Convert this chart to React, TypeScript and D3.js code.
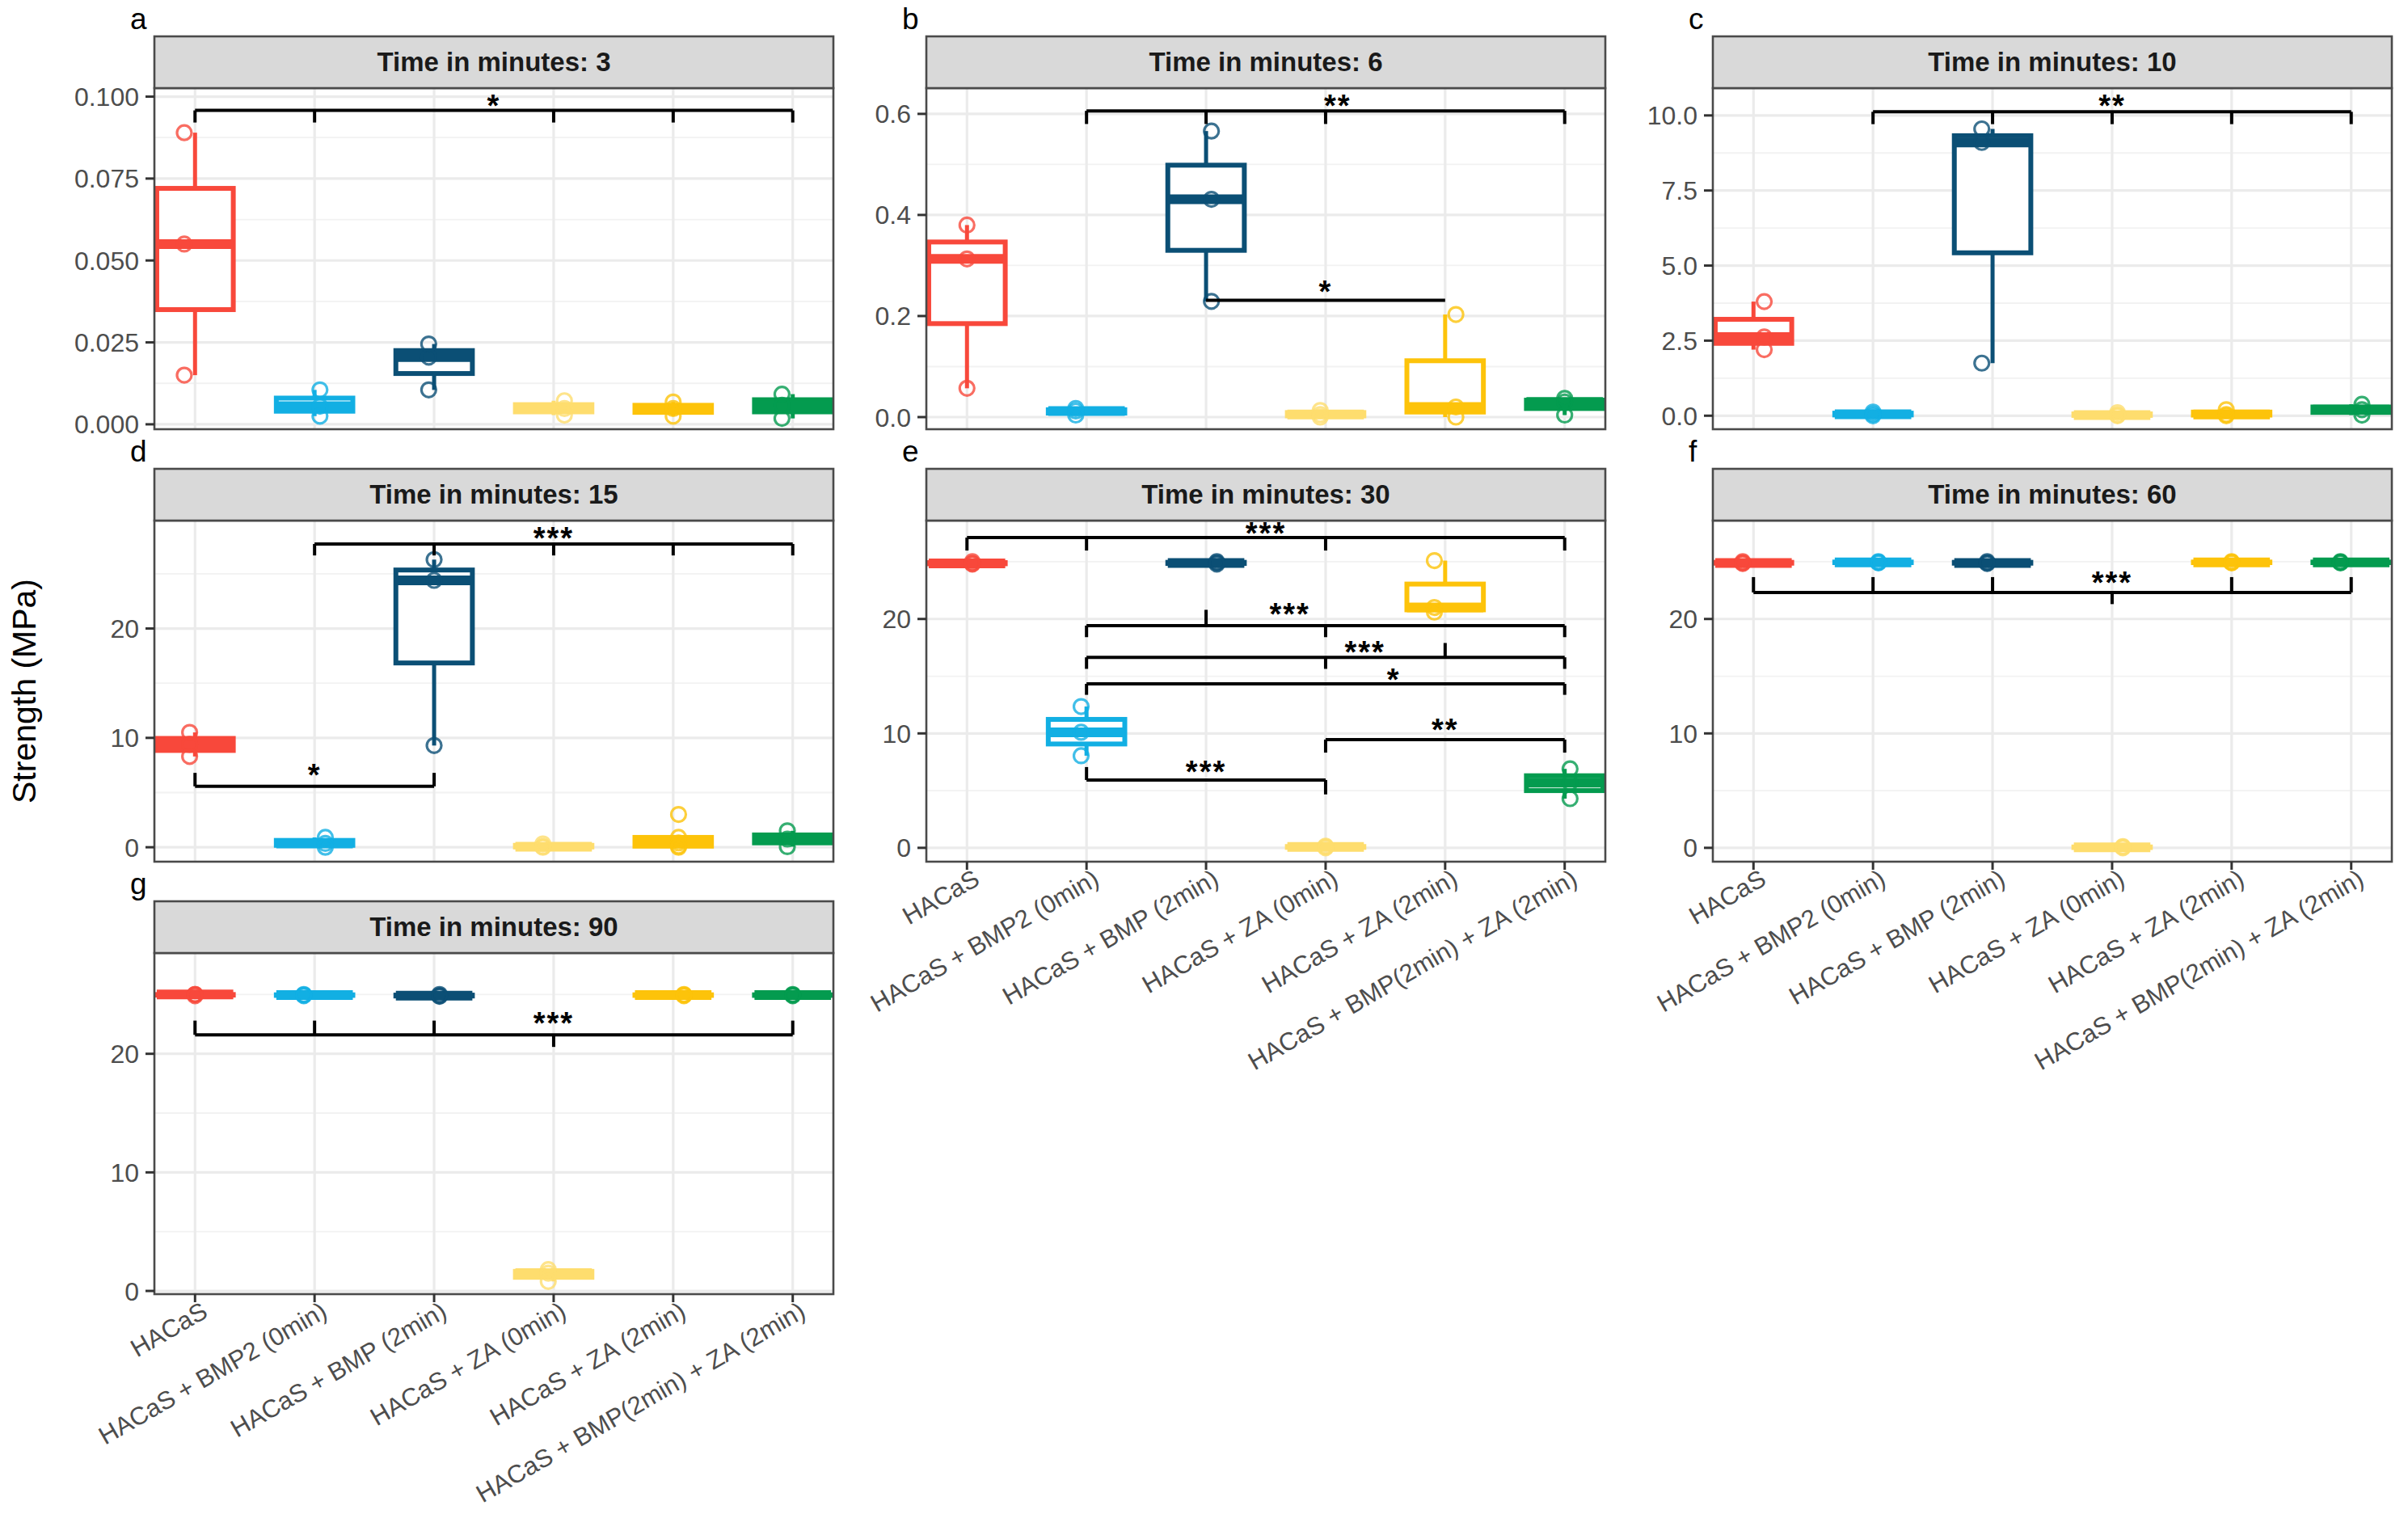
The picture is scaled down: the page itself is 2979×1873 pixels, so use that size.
import React from "react";
import * as d3 from "d3";

// ---------- categories / styling keys ----------
const groups = [
  "HACaS",
  "HACaS + BMP2 (0min)",
  "HACaS + BMP (2min)",
  "HACaS + ZA (0min)",
  "HACaS + ZA (2min)",
  "HACaS + BMP(2min) + ZA (2min)",
];
const groupColors = ["#F8483B", "#12AFE3", "#0B4F75", "#FEDD6E", "#FDC30A", "#049B4F"];

const panelLetters = ["a", "b", "c", "d", "e", "f", "g"];
const panelTimes = [3, 6, 10, 15, 30, 60, 90];

// ---------- strength values (MPa), one array per group ----------
const strength3 = [
  [0.089, 0.055, 0.015],
  [0.0105, 0.0055, 0.0025],
  [0.0245, 0.0205, 0.0105],
  [0.0072, 0.0048, 0.0028],
  [0.0068, 0.0048, 0.0025],
  [0.0092, 0.0058, 0.0018],
];
const strength6 = [
  [0.38, 0.313, 0.057],
  [0.017, 0.012, 0.004],
  [0.566, 0.431, 0.229],
  [0.013, 0.005, 0.0],
  [0.203, 0.02, 0.0],
  [0.037, 0.03, 0.004],
];
const strength10 = [
  [3.8, 2.62, 2.2],
  [0.12, 0.05, 0.0],
  [9.55, 9.1, 1.75],
  [0.1, 0.02, 0.0],
  [0.2, 0.04, 0.0],
  [0.38, 0.2, 0.02],
];
const strength15 = [
  [10.5, 9.4, 8.3],
  [0.9, 0.35, 0.0],
  [26.3, 24.4, 9.3],
  [0.3, 0.05, 0.0],
  [3.0, 0.9, 0.4, 0.1, 0.0],
  [1.5, 0.75, 0.05],
];
const strength30 = [
  [25.0, 24.85, 24.8],
  [12.35, 10.1, 8.05],
  [25.0, 24.9, 24.8],
  [0.15, 0.08, 0.0],
  [25.1, 21.0, 20.6],
  [6.9, 5.7, 4.3],
];
const strength60 = [
  [25.0, 24.9, 24.85],
  [25.0, 24.95, 24.9],
  [25.0, 24.9, 24.85],
  [0.1, 0.05, 0.0],
  [25.0, 24.95, 24.9],
  [25.0, 24.95, 24.9],
];
const strength90 = [
  [25.0, 25.0, 24.9],
  [25.0, 24.95, 24.9],
  [25.0, 24.9, 24.85],
  [1.8, 1.5, 0.8],
  [25.0, 24.95, 24.9],
  [25.0, 24.95, 24.9],
];

// ---------- y axis ranges and ticks ----------
const yDomain3 = [-0.0015, 0.1026];
const yDomain6 = [-0.024, 0.651];
const yDomain10 = [-0.45, 10.91];
const yDomain15 = [-1.32, 29.87];
const yDomain30 = [-1.21, 28.6];
const yDomain60 = [-1.21, 28.6];
const yDomain90 = [-0.27, 28.5];

const yTicks3 = [0, 0.025, 0.05, 0.075, 0.1];
const yTicks6 = [0, 0.2, 0.4, 0.6];
const yTicks10 = [0, 2.5, 5, 7.5, 10];
const yTicksMPa = [0, 10, 20];

const tickFormat3 = ".3f";
const tickFormat6 = ".1f";
const tickFormat10 = ".1f";
const tickFormatMPa = "d";

// ---------- significance brackets (category index 1..6, values in MPa) ----------
const brackets3 = [
  { y: 0.0958, from: 1, to: 6, ticks: [[1, 0.0921], [2, 0.0921], [4, 0.0921], [5, 0.0921], [6, 0.0921]], label: "*", lx: 3.5, ly: 0.0987 },
];
const brackets6 = [
  { y: 0.606, from: 2, to: 6, ticks: [[2, 0.58], [3, 0.58], [4, 0.58], [6, 0.58]], label: "**", lx: 4.1, ly: 0.626 },
  { y: 0.231, from: 3, to: 5, ticks: [], label: "*", lx: 4, ly: 0.257 },
];
const brackets10 = [
  { y: 10.12, from: 2, to: 6, ticks: [[2, 9.71], [3, 9.71], [4, 9.71], [5, 9.71], [6, 9.71]], label: "**", lx: 4, ly: 10.48 },
];
const brackets15 = [
  { y: 27.73, from: 2, to: 6, ticks: [[2, 26.68], [3, 26.68], [4, 26.68], [5, 26.68], [6, 26.68]], label: "***", lx: 4, ly: 28.7 },
  { y: 5.57, from: 1, to: 3, ticks: [[1, 6.8], [3, 6.8]], label: "*", lx: 2, ly: 7.0 },
];
const brackets30 = [
  { y: 27.11, from: 1, to: 6, ticks: [[1, 25.98], [2, 25.98], [4, 25.98], [6, 25.98]], label: "***", lx: 3.5, ly: 27.87 },
  { y: 19.42, from: 2, to: 6, ticks: [[2, 18.41], [3, 20.8], [4, 18.41], [6, 18.41]], label: "***", lx: 3.7, ly: 20.86 },
  { y: 16.65, from: 2, to: 6, ticks: [[2, 15.64], [4, 15.64], [5, 17.9], [6, 15.64]], label: "***", lx: 4.33, ly: 17.53 },
  { y: 14.33, from: 2, to: 6, ticks: [[2, 13.37], [6, 13.37]], label: "*", lx: 4.57, ly: 15.13 },
  { y: 9.46, from: 4, to: 6, ticks: [[4, 8.32], [6, 8.32]], label: "**", lx: 5, ly: 10.72 },
  { y: 5.93, from: 2, to: 4, ticks: [[2, 7.06], [4, 4.67]], label: "***", lx: 3, ly: 7.06 },
];
const brackets60 = [
  { y: 22.32, from: 1, to: 6, ticks: [[1, 23.66], [2, 23.66], [3, 23.66], [4, 21.3], [5, 23.66], [6, 23.66]], label: "***", lx: 4, ly: 23.58 },
];
const brackets90 = [
  { y: 21.6, from: 1, to: 6, ticks: [[1, 22.8], [2, 22.8], [3, 22.8], [4, 20.58], [6, 22.8]], label: "***", lx: 4, ly: 22.97 },
];

// ---------- panel table built from the arrays above ----------
const panelData = [strength3, strength6, strength10, strength15, strength30, strength60, strength90];
const panelDomains = [yDomain3, yDomain6, yDomain10, yDomain15, yDomain30, yDomain60, yDomain90];
const panelTicks = [yTicks3, yTicks6, yTicks10, yTicksMPa, yTicksMPa, yTicksMPa, yTicksMPa];
const panelFormats = [tickFormat3, tickFormat6, tickFormat10, tickFormatMPa, tickFormatMPa, tickFormatMPa, tickFormatMPa];
const panelBrackets = [brackets3, brackets6, brackets10, brackets15, brackets30, brackets60, brackets90];

// ---------- layout ----------
const W = 2979;
const H = 1873;
const colLefts = [191, 1146, 2119];
const rowTops = [45, 580, 1115];
const panelW = 840;
const stripH = 64;
const plotH = 422;
const panelGrid = [
  [0, 0], [0, 1], [0, 2],
  [1, 0], [1, 1], [1, 2],
  [2, 0],
];
const withXLabels = [false, false, false, false, true, true, true];

const FONT = "'Liberation Sans', Arial, Helvetica, sans-serif";

function boxStats(values: number[]) {
  const s = values.slice().sort(d3.ascending);
  const q1 = d3.quantile(s, 0.25) as number;
  const med = d3.quantile(s, 0.5) as number;
  const q3 = d3.quantile(s, 0.75) as number;
  const iqr = q3 - q1;
  const lo = d3.min(s.filter((v) => v >= q1 - 1.5 * iqr)) as number;
  const hi = d3.max(s.filter((v) => v <= q3 + 1.5 * iqr)) as number;
  return { q1, med, q3, lo, hi };
}

function Panel({ idx }: { idx: number }) {
  const [row, col] = panelGrid[idx];
  const left = colLefts[col];
  const right = left + panelW;
  const stripTop = rowTops[row];
  const top = stripTop + stripH;
  const bottom = top + plotH;
  const data = panelData[idx];
  const ticks = panelTicks[idx];
  const fmt = d3.format(panelFormats[idx]);

  const x = d3.scalePoint<string>().domain(groups).range([left, right]).padding(0.34);
  const step = x.step();
  const catX = (c: number) => (x(groups[0]) as number) + (c - 1) * step;
  const y = d3.scaleLinear().domain(panelDomains[idx]).range([bottom, top]);

  const tStep = ticks[1] - ticks[0];
  const minor: number[] = [];
  const dom = panelDomains[idx];
  for (let i = -1; i < ticks.length; i++) {
    const v = (i < 0 ? ticks[0] : ticks[i]) + (i < 0 ? -tStep / 2 : tStep / 2);
    if (v > dom[0] && v < dom[1]) minor.push(v);
  }
  const bw = step * 0.64;
  const clipId = `clip-${idx}`;

  return (
    <g>
      <defs>
        <clipPath id={clipId}>
          <rect x={left} y={top} width={panelW} height={plotH} />
        </clipPath>
      </defs>
      <rect x={left} y={top} width={panelW} height={plotH} fill="#FFFFFF" />
      <g clipPath={`url(#${clipId})`}>
        {minor.map((v) => (
          <line key={"mn" + v} x1={left} x2={right} y1={y(v)} y2={y(v)} stroke="#F2F2F2" strokeWidth={1.8} />
        ))}
        {ticks.map((v) => (
          <line key={"mj" + v} x1={left} x2={right} y1={y(v)} y2={y(v)} stroke="#EBEBEB" strokeWidth={3.2} />
        ))}
        {groups.map((g) => (
          <line key={"vg" + g} x1={x(g)} x2={x(g)} y1={top} y2={bottom} stroke="#EBEBEB" strokeWidth={3.2} />
        ))}
        {data.map((vals, gi) => {
          const st = boxStats(vals);
          const cx = x(groups[gi]) as number;
          const color = groupColors[gi];
          return (
            <g key={"box" + gi}>
              <line x1={cx} x2={cx} y1={y(st.hi)} y2={y(st.q3)} stroke={color} strokeWidth={5} />
              <line x1={cx} x2={cx} y1={y(st.q1)} y2={y(st.lo)} stroke={color} strokeWidth={5} />
              <rect
                x={cx - bw / 2}
                y={y(st.q3)}
                width={bw}
                height={Math.max(0.01, y(st.q1) - y(st.q3))}
                fill="#FFFFFF"
                stroke={color}
                strokeWidth={6}
              />
              <line x1={cx - bw / 2} x2={cx + bw / 2} y1={y(st.med)} y2={y(st.med)} stroke={color} strokeWidth={12} />
            </g>
          );
        })}
        {data.map((vals, gi) =>
          vals.map((v, pi) => {
            const jit = (((gi * 3 + pi * 5 + idx * 7) % 5) - 2) * 0.045;
            return (
              <circle
                key={"pt" + gi + "-" + pi}
                cx={(x(groups[gi]) as number) + jit * step}
                cy={y(v)}
                r={9}
                fill="none"
                stroke={groupColors[gi]}
                strokeOpacity={0.8}
                strokeWidth={3.2}
              />
            );
          })
        )}
        {panelBrackets[idx].map((b, bi) => (
          <g key={"br" + bi}>
            <line x1={catX(b.from)} x2={catX(b.to)} y1={y(b.y)} y2={y(b.y)} stroke="#000" strokeWidth={4} />
            {b.ticks.map((t, ti) => (
              <line key={ti} x1={catX(t[0])} x2={catX(t[0])} y1={y(b.y)} y2={y(t[1])} stroke="#000" strokeWidth={4} />
            ))}
            <text
              x={catX(b.lx)}
              y={y(b.ly) + 19}
              textAnchor="middle"
              fontFamily={FONT}
              fontWeight="bold"
              fontSize={38}
              letterSpacing={2}
              fill="#000"
            >
              {b.label}
            </text>
          </g>
        ))}
      </g>
      <rect x={left} y={top} width={panelW} height={plotH} fill="none" stroke="#4A4A4A" strokeWidth={2.6} />
      <rect x={left} y={stripTop} width={panelW} height={stripH} fill="#D9D9D9" stroke="#4A4A4A" strokeWidth={2.6} />
      <text
        x={left + panelW / 2}
        y={stripTop + 43}
        textAnchor="middle"
        fontFamily={FONT}
        fontWeight="bold"
        fontSize={33}
        fill="#1A1A1A"
      >
        {`Time in minutes: ${panelTimes[idx]}`}
      </text>
      {ticks.map((v) => (
        <g key={"yt" + v}>
          <line x1={left - 11} x2={left} y1={y(v)} y2={y(v)} stroke="#333" strokeWidth={3} />
          <text
            x={left - 19}
            y={y(v)}
            dy="0.36em"
            textAnchor="end"
            fontFamily={FONT}
            fontSize={32}
            fill="#4D4D4D"
          >
            {fmt(v)}
          </text>
        </g>
      ))}
      {withXLabels[idx] &&
        groups.map((g) => {
          const cx = x(g) as number;
          return (
            <g key={"xt" + g}>
              <line x1={cx} x2={cx} y1={bottom} y2={bottom + 10} stroke="#333" strokeWidth={3} />
              <text
                transform={`translate(${cx + 6},${bottom + 7}) rotate(-30)`}
                dy="0.75em"
                textAnchor="end"
                fontFamily={FONT}
                fontSize={31}
                fill="#4D4D4D"
              >
                {g}
              </text>
            </g>
          );
        })}
      <text x={left - 30} y={stripTop - 9} fontFamily={FONT} fontSize={37} fill="#000">
        {panelLetters[idx]}
      </text>
    </g>
  );
}

export default function App() {
  return (
    <svg
      width={W}
      height={H}
      viewBox={`0 0 ${W} ${H}`}
      style={{ position: "absolute", left: 0, top: 0, display: "block", background: "#FFFFFF" }}
    >
      <rect x={0} y={0} width={W} height={H} fill="#FFFFFF" />
      {panelTimes.map((_, i) => (
        <Panel key={i} idx={i} />
      ))}
      <text
        transform={`translate(44,855) rotate(-90)`}
        textAnchor="middle"
        fontFamily={FONT}
        fontSize={41}
        fill="#000"
      >
        Strength (MPa)
      </text>
    </svg>
  );
}
